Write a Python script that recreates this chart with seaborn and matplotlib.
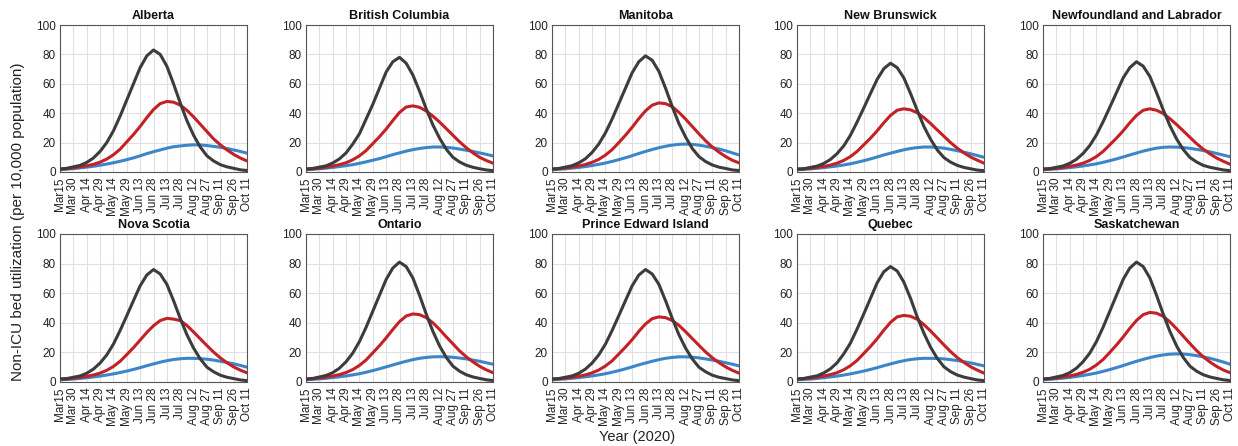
import numpy as np
import pandas as pd
import matplotlib
matplotlib.use("Agg")
import matplotlib.pyplot as plt
import seaborn as sns

# ---------------- data ----------------
provinces = ["Alberta", "British Columbia", "Manitoba", "New Brunswick",
             "Newfoundland and Labrador", "Nova Scotia", "Ontario",
             "Prince Edward Island", "Quebec", "Saskatchewan"]

# days since Mar 15, 2020 (sampled every 7.5 days)
days = [0, 7.5, 15, 22.5, 30, 37.5, 45, 52.5, 60, 67.5, 75, 82.5, 90, 97.5, 105,
        112.5, 120, 127.5, 135, 142.5, 150, 157.5, 165, 172.5, 180, 187.5, 195, 202.5, 210]

tick_days = [0, 15, 30, 45, 60, 75, 90, 105, 120, 135, 150, 165, 180, 195, 210]
tick_labels = ["Mar15", "Mar 30", "Apr 14", "Apr 29", "May 14", "May 29", "Jun 13",
               "Jun 28", "Jul 13", "Jul 28", "Aug 12", "Aug 27", "Sep 11", "Sep 26", "Oct 11"]

black_series = {
    "Alberta":                   [2, 2.5, 3.5, 4.5, 6.5, 9.5, 14, 20, 28, 38, 49, 60, 71, 79, 83, 80, 72, 60, 47, 35, 25, 17, 11, 7.5, 5, 3.5, 2.5, 1.5, 1],
    "British Columbia":          [2, 2.4, 3.3, 4.2, 6.1, 8.9, 13, 19, 26, 36, 46, 57, 68, 75, 78, 74, 66, 55, 43, 32, 23, 15.5, 10, 6.8, 4.6, 3.2, 2.2, 1.4, 0.9],
    "Manitoba":                  [2, 2.4, 3.3, 4.3, 6.2, 9, 13.3, 19, 26.6, 36, 46.5, 57, 67.5, 75, 79, 76, 68.5, 57, 44.5, 33, 23.8, 16, 10.5, 7.1, 4.8, 3.3, 2.4, 1.4, 1],
    "New Brunswick":             [2, 2.2, 3.1, 4, 5.8, 8.5, 12.5, 17.8, 25, 34, 43.6, 53.4, 63, 70.3, 74, 71, 64, 53.4, 42, 31, 22.3, 15, 9.8, 6.7, 4.5, 3.1, 2.2, 1.3, 0.9],
    "Newfoundland and Labrador": [2, 2.3, 3.2, 4.1, 5.9, 8.6, 12.6, 18, 25.2, 34.2, 44, 54, 64, 71, 75, 72, 65, 54, 42.3, 31.5, 22.5, 15.3, 9.9, 6.8, 4.5, 3.2, 2.3, 1.4, 0.9],
    "Nova Scotia":               [2, 2.3, 3.2, 4.1, 5.9, 8.7, 12.8, 18.3, 25.6, 34.8, 44.8, 55, 65, 72.3, 76, 73, 66, 55, 43, 32, 22.9, 15.6, 10, 6.9, 4.6, 3.2, 2.3, 1.4, 0.9],
    "Ontario":                   [2, 2.4, 3.4, 4.4, 6.3, 9.3, 13.7, 19.5, 27.3, 37, 47.8, 58.6, 69.3, 77, 81, 78, 70.3, 58.6, 45.9, 34.2, 24.4, 16.6, 10.7, 7.3, 4.9, 3.4, 2.4, 1.5, 1],
    "Prince Edward Island":      [2, 2.3, 3.2, 4.1, 5.9, 8.7, 12.8, 18.3, 25.6, 34.8, 44.8, 55, 65, 72.3, 76, 73, 66, 55, 43, 32, 22.9, 15.6, 10, 6.9, 4.6, 3.2, 2.3, 1.4, 0.9],
    "Quebec":                    [2, 2.4, 3.3, 4.2, 6.1, 8.9, 13, 19, 26.3, 35.8, 46, 56.5, 67, 74.5, 78, 75, 67.5, 56.5, 44, 33, 23.5, 16, 10.3, 7, 4.7, 3.3, 2.3, 1.4, 0.9],
    "Saskatchewan":              [2, 2.4, 3.4, 4.4, 6.3, 9.3, 13.7, 19.5, 27.3, 37, 47.8, 58.6, 69.3, 77, 81, 78, 70.3, 58.6, 45.9, 34.2, 24.4, 16.6, 10.7, 7.3, 4.9, 3.4, 2.4, 1.5, 1],
}

red_series = {
    "Alberta":                   [2, 2.3, 2.8, 3.4, 4.2, 5.2, 6.7, 8.8, 11.7, 15.5, 20.5, 25.5, 31, 37, 42.5, 46.5, 48, 47.5, 45.5, 42, 37.5, 32.5, 27.5, 22.5, 18.5, 15, 12, 9.5, 7.5],
    "British Columbia":          [2, 2.2, 2.6, 3.2, 4, 5, 6.3, 8.3, 11, 14.6, 19.3, 24, 29.2, 35, 40.5, 44.2, 45, 44, 41.5, 38, 34, 29.5, 25, 20.5, 16.5, 13, 10, 7.8, 6],
    "Manitoba":                  [2, 2.3, 2.7, 3.3, 4.1, 5.1, 6.6, 8.6, 11.5, 15.2, 20, 25, 30.4, 36.3, 41.6, 45.5, 47, 46.5, 44.4, 40.6, 36, 31, 26, 21.2, 17, 13.5, 10.5, 8, 6.2],
    "New Brunswick":             [2, 2.1, 2.5, 3.1, 3.8, 4.7, 6, 7.9, 10.5, 14, 18.5, 23, 28, 33.5, 38.5, 42, 43, 42.3, 40.3, 37, 33, 28.6, 24.3, 20, 16.2, 13, 10.2, 8, 6],
    "Newfoundland and Labrador": [2, 2.1, 2.5, 3.1, 3.8, 4.7, 6, 7.9, 10.5, 14, 18.5, 23, 28, 33.5, 38.5, 42, 43, 42, 39.8, 36.3, 32.3, 28, 23.6, 19.3, 15.5, 12.3, 9.5, 7.3, 5.3],
    "Nova Scotia":               [2, 2.1, 2.5, 3.1, 3.8, 4.7, 6, 7.9, 10.5, 14, 18.5, 23.2, 28.3, 33.5, 38, 41.5, 43, 42.5, 41.5, 38.2, 33.8, 29.2, 24.6, 20.2, 16.3, 13, 10.2, 8, 6.2],
    "Ontario":                   [2, 2.2, 2.7, 3.2, 4, 5, 6.4, 8.4, 11.2, 14.9, 19.7, 24.5, 29.8, 35.5, 40.8, 44.6, 46, 45.5, 43.5, 40, 35.5, 30.5, 25.8, 21, 17, 13.6, 10.6, 8.2, 6.3],
    "Prince Edward Island":      [2, 2.2, 2.6, 3.1, 3.9, 4.8, 6.2, 8.1, 10.8, 14.3, 18.9, 23.6, 28.6, 34.2, 39.2, 42.8, 44, 43.5, 41.6, 38.3, 34, 29.4, 24.8, 20.3, 16.4, 13.1, 10.2, 7.9, 6],
    "Quebec":                    [2, 2.2, 2.6, 3.2, 4, 5, 6.3, 8.3, 11, 14.6, 19.3, 24, 29.2, 35, 40.3, 44, 45, 44.4, 42.4, 38.8, 34.5, 29.8, 25.1, 20.5, 16.5, 13.2, 10.3, 8, 6],
    "Saskatchewan":              [2, 2.3, 2.7, 3.3, 4.1, 5.1, 6.6, 8.6, 11.5, 15.2, 20, 25, 30.4, 36.3, 41.6, 45.5, 47, 46.5, 44.4, 40.6, 36, 31, 26, 21.2, 17, 13.5, 10.5, 8.1, 6.3],
}

blue_series = {
    "Alberta":                   [1.5, 1.9, 2.3, 2.8, 3.3, 3.9, 4.6, 5.4, 6.3, 7.3, 8.4, 9.6, 11, 12.5, 13.8, 15, 16.2, 17.2, 17.7, 18.2, 18.5, 18.4, 18, 17.4, 16.8, 16, 15, 14, 12.8],
    "British Columbia":          [1.5, 1.8, 2.2, 2.6, 3.1, 3.7, 4.3, 5, 5.9, 6.9, 8, 9.1, 10.4, 11.8, 13, 14.2, 15.2, 16, 16.6, 17, 17, 16.8, 16.3, 15.6, 14.8, 14, 13, 12, 10.9],
    "Manitoba":                  [1.5, 1.8, 2.2, 2.6, 3.1, 3.7, 4.4, 5.2, 6.1, 7.2, 8.4, 9.7, 11.1, 12.6, 14, 15.3, 16.5, 17.5, 18.3, 18.8, 19, 18.8, 18.3, 17.5, 16.6, 15.6, 14.4, 13, 11.6],
    "New Brunswick":             [1.5, 1.8, 2.1, 2.5, 3, 3.5, 4.1, 4.8, 5.6, 6.6, 7.7, 8.9, 10.2, 11.6, 12.8, 14, 15.1, 16, 16.6, 17, 17, 16.7, 16.2, 15.4, 14.5, 13.5, 12.4, 11.2, 10],
    "Newfoundland and Labrador": [1.5, 1.8, 2.1, 2.5, 3, 3.5, 4.1, 4.8, 5.6, 6.6, 7.7, 8.9, 10.2, 11.6, 12.9, 14.2, 15.3, 16.2, 16.8, 17, 16.9, 16.6, 16.1, 15.4, 14.6, 13.7, 12.6, 11.5, 10.4],
    "Nova Scotia":               [1.5, 1.7, 2, 2.4, 2.9, 3.4, 4, 4.7, 5.5, 6.4, 7.4, 8.5, 9.7, 11, 12.2, 13.4, 14.4, 15.2, 15.7, 16, 16, 15.8, 15.4, 14.8, 14, 13.2, 12.3, 11.2, 10],
    "Ontario":                   [1.5, 1.8, 2.1, 2.5, 3, 3.5, 4.1, 4.8, 5.6, 6.6, 7.7, 8.9, 10.2, 11.5, 12.8, 14, 15.1, 16, 16.6, 17, 17.1, 17, 16.7, 16.2, 15.6, 14.8, 14, 13, 12],
    "Prince Edward Island":      [1.5, 1.8, 2.1, 2.5, 3, 3.5, 4.1, 4.8, 5.6, 6.6, 7.7, 8.9, 10.2, 11.6, 12.8, 14, 15.1, 16, 16.6, 17, 17, 16.8, 16.3, 15.6, 14.8, 14, 13, 12, 10.9],
    "Quebec":                    [1.5, 1.7, 2, 2.4, 2.9, 3.4, 4, 4.7, 5.5, 6.4, 7.4, 8.5, 9.7, 11, 12.2, 13.4, 14.4, 15.2, 15.7, 16, 16, 15.9, 15.6, 15.1, 14.5, 13.7, 12.9, 11.9, 10.9],
    "Saskatchewan":              [1.5, 1.8, 2.2, 2.6, 3.1, 3.7, 4.4, 5.2, 6.1, 7.2, 8.4, 9.7, 11.1, 12.6, 14, 15.3, 16.5, 17.5, 18.3, 18.8, 19, 18.9, 18.5, 17.8, 17, 16, 14.8, 13.5, 12],
}

# ---------------- style ----------------
sns.set_style("white")
plt.rcParams["font.family"] = ["Liberation Sans", "DejaVu Sans"]

colors = {"black": "#3c3c3c", "red": "#c42127", "blue": "#3a86c8"}

W, H = 1238, 446
fig = plt.figure(figsize=(W / 100, H / 100), dpi=100)

col_left = [60, 306, 552, 797, 1043]
ax_w = 187
rows = [(25, 172), (234, 382)]

for idx, prov in enumerate(provinces):
    r, c = divmod(idx, 5)
    top, bot = rows[r]
    ax = fig.add_axes([col_left[c] / W, 1 - bot / H, ax_w / W, (bot - top) / H])

    df = pd.DataFrame({
        "day": days * 3,
        "value": black_series[prov] + red_series[prov] + blue_series[prov],
        "series": ["black"] * len(days) + ["red"] * len(days) + ["blue"] * len(days),
    })
    # draw blue first, then red, then black on top
    for s in ["blue", "red", "black"]:
        sns.lineplot(data=df[df["series"] == s], x="day", y="value", ax=ax,
                     color=colors[s], linewidth=2.2, legend=False, zorder=3)

    ax.set_xlim(0, 210)
    ax.set_ylim(0, 100)
    ax.set_xticks(tick_days)
    ax.set_xticklabels(tick_labels, rotation=90, fontsize=8.5, color="#222222")
    ax.set_yticks([0, 20, 40, 60, 80, 100])
    ax.set_yticklabels(["0", "20", "40", "60", "80", "100"], fontsize=8.5, color="#222222")
    ax.grid(True, color="#e0e0e0", linewidth=0.8, zorder=0)
    ax.set_axisbelow(True)
    for sp in ax.spines.values():
        sp.set_visible(True)
        sp.set_color("#555555")
        sp.set_linewidth(0.8)
    ax.tick_params(axis="both", length=2, width=0.6, color="#555555", direction="in")
    ax.tick_params(axis="x", pad=4)
    ax.tick_params(axis="y", pad=3)
    ax.set_xlabel("")
    ax.set_ylabel("")
    ax.set_title(prov, fontsize=9, fontweight="bold", pad=4, color="#111111")

fig.text(18 / W, 1 - 222 / H, "Non-ICU bed utilization (per 10,000 population)",
         rotation=90, ha="center", va="center", fontsize=11, color="#222222")
fig.text(637 / W, 1 - 437 / H, "Year (2020)", ha="center", va="center",
         fontsize=10.5, color="#222222")

fig.savefig("out.png", dpi=100)
